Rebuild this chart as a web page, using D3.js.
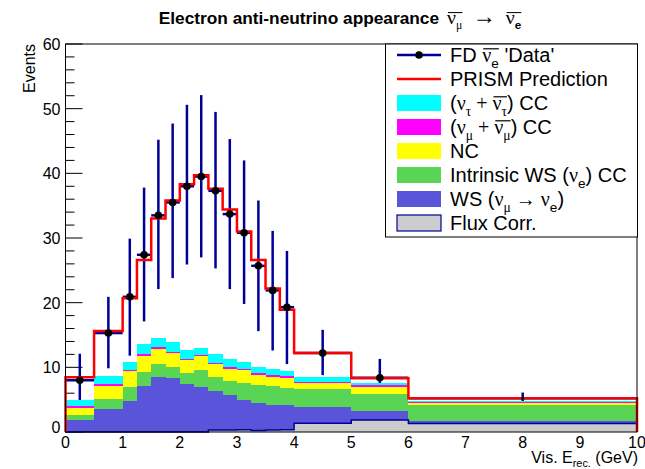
<!DOCTYPE html>
<html><head><meta charset="utf-8">
<script src="https://cdn.jsdelivr.net/npm/d3@7"></script>
<style>html,body{margin:0;padding:0;background:#fff;}svg{display:block;}text{white-space:pre;}</style>
</head><body>
<svg id="chart" width="645" height="469"></svg>
<script>
// ---------------- data ----------------
const binEdges = [0, 0.5, 1, 1.25, 1.5, 1.75, 2, 2.25, 2.5, 2.75, 3, 3.25, 3.5, 3.75, 4, 5, 6, 10];
const dataValues = [8.0, 15.3, 20.9, 27.4, 33.5, 35.5, 38.0, 39.5, 37.3, 33.7, 30.8, 25.7, 21.9, 19.3, 12.2, 8.4, 5.2];
const dataUpper  = [12.1, 20.9, 29.9, 37.8, 45.2, 47.7, 50.6, 52.1, 49.5, 45.3, 42.0, 35.8, 31.1, 28.0, 15.8, 11.3, 6.1];
const dataLower  = [4.0, 9.85, 11.8, 17.1, 22.1, 23.8, 25.9, 27.0, 25.3, 22.1, 19.8, 15.6, 12.6, 10.5, 8.8, 5.5, 4.3];
const prismValues = [8.45, 15.6, 20.7, 26.6, 33.0, 35.8, 38.3, 39.7, 37.6, 34.4, 31.0, 26.6, 22.2, 18.9, 12.2, 8.3, 5.2];
const fluxCorr    = [0, 0, 0, 0, 0, 0, 0, 0, 0.3, 0.3, 0.35, 0.25, 0.3, 0.35, 1.35, 1.85, 1.3];
const wsNumuToNue = [1.85, 3.55, 4.85, 7.15, 8.45, 8.3, 7.35, 7.0, 6.1, 5.4, 4.6, 4.3, 3.8, 3.8, 2.55, 1.4, 0.45];
const intrinsicWS = [0.85, 1.55, 2.05, 2.15, 2.0, 1.7, 1.7, 2.6, 2.15, 2.2, 2.65, 2.75, 2.95, 2.7, 2.7, 2.65, 2.4];
const ncValues    = [0.95, 2.05, 2.5, 2.5, 2.45, 2.15, 2.05, 2.15, 1.9, 1.9, 1.95, 1.5, 1.45, 1.45, 1.05, 1.0, 0.3];
const numuCC      = [0.35, 0.35, 0.2, 0.25, 0.3, 0.25, 0.2, 0.2, 0.2, 0.2, 0.25, 0.25, 0.25, 0.3, 0.15, 0.3, 0.15];
const nutauCC     = [0.9, 1.2, 1.2, 1.5, 1.4, 1.45, 1.35, 1.05, 1.4, 1.25, 0.95, 1.0, 1.0, 0.9, 0.65, 0.35, 0.15];
const yTicks = [0, 10, 20, 30, 40, 50, 60];
const xTicks = [0, 1, 2, 3, 4, 5, 6, 7, 8, 9, 10];

// ---------------- setup ----------------
const SANS = "'Liberation Sans', Arial, Helvetica, sans-serif";
const SERIF = "'Liberation Serif', 'Times New Roman', serif";
const NAVY = "#000099";
const svg = d3.select("#chart");
const M = {left: 65.5, right: 637, top: 44, bottom: 432};
const x = d3.scaleLinear().domain([0, 10]).range([M.left, M.right]);
const y = d3.scaleLinear().domain([0, 60]).range([M.bottom, M.top]);

const bins = binEdges.slice(0, -1).map((lo, i) => ({lo, hi: binEdges[i + 1], i}));

// rich text helper
function rich(parent, px, py, parts, size, opts = {}) {
  const weight = opts.weight || "normal";
  const g = parent.append("g");
  let cx = 0;
  const bars = [];
  parts.forEach(p => {
    if (p.pre) cx += p.pre;
    const fs = size * (p.scale || 1);
    const t = g.append("text").attr("x", cx).attr("y", 0)
      .attr("xml:space", "preserve")
      .attr("font-family", p.serif ? SERIF : SANS)
      .attr("font-size", fs)
      .attr("font-weight", p.serif ? "normal" : weight)
      .attr("fill", "#000").text(p.t);
    const start = cx;
    cx += t.node().getComputedTextLength();
    if (p.sub) {
      const s = g.append("text").attr("x", cx).attr("y", size * 0.28)
        .attr("font-family", p.sub.serif ? SERIF : SANS)
        .attr("font-size", size * 0.68)
        .attr("font-weight", p.sub.serif ? "normal" : weight)
        .attr("fill", "#000").text(p.sub.t);
      cx += s.node().getComputedTextLength();
    }
    if (p.bar) bars.push([start + size * 0.05, cx]);
  });
  bars.forEach(b => g.append("line").attr("x1", b[0]).attr("x2", b[1])
    .attr("y1", -size * 0.66).attr("y2", -size * 0.66)
    .attr("stroke", "#000").attr("stroke-width", Math.max(1, size * 0.06)));
  let ox = px;
  if (opts.anchor === "middle") ox = px - cx / 2;
  if (opts.anchor === "end") ox = px - cx;
  g.attr("transform", `translate(${ox},${py})`);
  return g;
}

// ---------------- axes (under the stack) ----------------
const axisG = svg.append("g");
d3.range(0, 60.001, 2).forEach(v => {
  const major = v % 10 === 0;
  axisG.append("line").attr("x1", M.left).attr("x2", M.left + (major ? 17 : 9))
    .attr("y1", y(v)).attr("y2", y(v)).attr("stroke", "#000").attr("stroke-width", 1);
});
d3.range(0, 10.001, 0.2).forEach(v => {
  const major = Math.abs(v - Math.round(v)) < 1e-6;
  axisG.append("line").attr("x1", x(v)).attr("x2", x(v))
    .attr("y1", M.bottom).attr("y2", M.bottom - (major ? 11.6 : 5.8))
    .attr("stroke", "#000").attr("stroke-width", 1);
});
yTicks.forEach(v => {
  axisG.append("text").attr("x", 60.5).attr("y", y(v) + (v === 0 ? 1 : 6))
    .attr("text-anchor", "end").attr("font-family", SANS).attr("font-size", 16).text(v);
});
xTicks.forEach(v => {
  axisG.append("text").attr("x", x(v)).attr("y", 448)
    .attr("text-anchor", "middle").attr("font-family", SANS).attr("font-size", 16).text(v);
});

// ---------------- data error bars (drawn before stack) ----------------
const dataG = svg.append("g");
bins.forEach(b => {
  const cxv = (b.lo + b.hi) / 2;
  dataG.append("line").attr("x1", x(cxv)).attr("x2", x(cxv))
    .attr("y1", y(dataUpper[b.i])).attr("y2", y(dataLower[b.i]))
    .attr("stroke", NAVY).attr("stroke-width", 2.5);
  dataG.append("line").attr("x1", x(b.lo)).attr("x2", x(b.hi))
    .attr("y1", y(dataValues[b.i])).attr("y2", y(dataValues[b.i]))
    .attr("stroke", NAVY).attr("stroke-width", 2.5);
});

// ---------------- stack ----------------
const layers = [
  {vals: fluxCorr, color: "#cccccc"},
  {vals: wsNumuToNue, color: "#5954d9"},
  {vals: intrinsicWS, color: "#59d454"},
  {vals: ncValues, color: "#ffff00"},
  {vals: numuCC, color: "#ff00ff"},
  {vals: nutauCC, color: "#00ffff"}
];
const stackG = svg.append("g");
const cum = bins.map(() => 0);
layers.forEach(L => {
  bins.forEach(b => {
    const v0 = cum[b.i], v1 = v0 + L.vals[b.i];
    if (L.vals[b.i] > 0) {
      stackG.append("rect").attr("x", x(b.lo)).attr("width", x(b.hi) - x(b.lo))
        .attr("y", y(v1)).attr("height", y(v0) - y(v1))
        .attr("fill", L.color).attr("shape-rendering", "crispEdges");
    }
    cum[b.i] = v1;
  });
});
function stepPath(vals) {
  const p = d3.path();
  p.moveTo(x(binEdges[0]), y(0));
  bins.forEach(b => { p.lineTo(x(b.lo), y(vals[b.i])); p.lineTo(x(b.hi), y(vals[b.i])); });
  p.lineTo(x(binEdges[binEdges.length - 1]), y(0));
  return p.toString();
}
stackG.append("path").attr("d", stepPath(fluxCorr)).attr("fill", "none")
  .attr("stroke", NAVY).attr("stroke-width", 1.5);

// ---------------- PRISM prediction ----------------
svg.append("path").attr("d", stepPath(prismValues)).attr("fill", "none")
  .attr("stroke", "#ff0000").attr("stroke-width", 2.5);

// data markers
bins.forEach(b => {
  const cxv = (b.lo + b.hi) / 2;
  svg.append("circle").attr("cx", x(cxv)).attr("cy", y(dataValues[b.i]))
    .attr("r", (b.hi - b.lo) > 2 ? 1.5 : 3.8).attr("fill", "#000");
});

// frame
svg.append("rect").attr("x", M.left).attr("y", M.top)
  .attr("width", M.right - M.left).attr("height", M.bottom - M.top)
  .attr("fill", "none").attr("stroke", "#000").attr("stroke-width", 1);

// ---------------- titles ----------------
rich(svg, 340, 24, [
  {t: "Electron anti-neutrino appearance"},
  {t: "ν", serif: true, bar: true, scale: 1.15, sub: {t: "μ", serif: true}, pre: 8},
  {t: "→", serif: true, scale: 1.35, pre: 10},
  {t: "ν", serif: true, bar: true, scale: 1.15, sub: {t: "e"}, pre: 10}
], 17.3, {weight: "bold", anchor: "middle"});

rich(svg, 638, 463, [
  {t: "Vis. E", sub: {t: "rec."}},
  {t: " (GeV)"}
], 16, {anchor: "end"});

svg.append("text").attr("transform", "translate(35,44) rotate(-90)")
  .attr("text-anchor", "end").attr("font-family", SANS).attr("font-size", 16).text("Events");

// ---------------- legend ----------------
const legG = svg.append("g");
legG.append("rect").attr("x", 385.5).attr("y", 44).attr("width", 252).attr("height", 193)
  .attr("fill", "#fff").attr("stroke", "#000").attr("stroke-width", 1);
const legendEntries = [
  {type: "data", parts: [{t: "FD "}, {t: "ν", serif: true, bar: true, sub: {t: "e"}}, {t: " 'Data'"}]},
  {type: "line", color: "#ff0000", parts: [{t: "PRISM Prediction"}]},
  {type: "box", color: "#00ffff", parts: [{t: "("}, {t: "ν", serif: true, sub: {t: "τ", serif: true}}, {t: " + ", serif: true}, {t: "ν", serif: true, bar: true, sub: {t: "τ", serif: true}}, {t: ") CC"}]},
  {type: "box", color: "#ff00ff", parts: [{t: "("}, {t: "ν", serif: true, sub: {t: "μ", serif: true}}, {t: " + ", serif: true}, {t: "ν", serif: true, bar: true, sub: {t: "μ", serif: true}}, {t: ") CC"}]},
  {type: "box", color: "#ffff00", parts: [{t: "NC"}]},
  {type: "box", color: "#59d454", parts: [{t: "Intrinsic WS ("}, {t: "ν", serif: true, sub: {t: "e"}}, {t: ") CC"}]},
  {type: "box", color: "#5954d9", parts: [{t: "WS ("}, {t: "ν", serif: true, sub: {t: "μ", serif: true}}, {t: " → ", serif: true}, {t: "ν", serif: true, sub: {t: "e"}}, {t: ")"}]},
  {type: "box", color: "#cccccc", stroke: NAVY, parts: [{t: "Flux Corr."}]}
];
legendEntries.forEach((e, k) => {
  const cy = 55 + k * 24;
  if (e.type === "data") {
    legG.append("line").attr("x1", 397).attr("x2", 441).attr("y1", cy).attr("y2", cy)
      .attr("stroke", NAVY).attr("stroke-width", 2.5);
    legG.append("circle").attr("cx", 419).attr("cy", cy).attr("r", 3.8).attr("fill", "#000");
  } else if (e.type === "line") {
    legG.append("line").attr("x1", 397).attr("x2", 441).attr("y1", cy).attr("y2", cy)
      .attr("stroke", e.color).attr("stroke-width", 2.5);
  } else {
    legG.append("rect").attr("x", 397).attr("y", cy - 8).attr("width", 44).attr("height", 16)
      .attr("fill", e.color).attr("stroke", e.stroke || "none").attr("stroke-width", 1.2);
  }
  rich(legG, 450, cy + 7, e.parts, 20);
});
</script>
</body></html>
